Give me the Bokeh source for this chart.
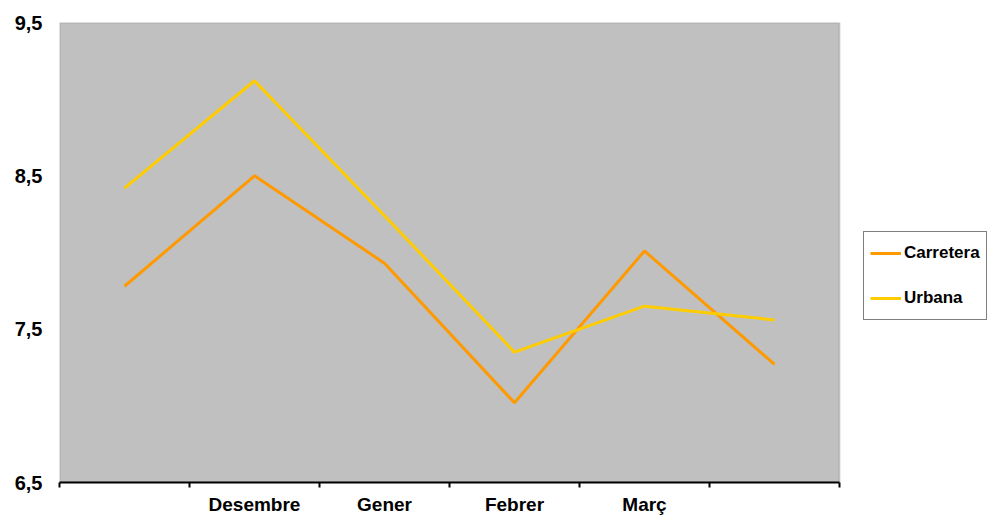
from bokeh.plotting import figure
from bokeh.models import FixedTicker, Legend, LegendItem, Range1d, ColumnDataSource, BoxAnnotation
from bokeh.embed import file_html
from bokeh.resources import INLINE

# ---- data ----
categories = ["", "Desembre", "Gener", "Febrer", "Març", ""]
carretera = [7.78, 8.50, 7.93, 7.02, 8.01, 7.27]
urbana = [8.42, 9.12, 8.24, 7.35, 7.65, 7.56]
y_ticks = [6.5, 7.5, 8.5, 9.5]
y_tick_labels = ["6,5", "7,5", "8,5", "9,5"]

n = len(categories)
xpos = [i + 0.5 for i in range(n)]
src = ColumnDataSource(dict(x=xpos, carretera=carretera, urbana=urbana))

FONT = "Liberation Sans"

# layout: plot area 780 px wide for n categories, extra 152 px on the right for the legend
LEFT, TOP, BOTTOM = 59, 22, 34
PLOT_W, EXTRA_W = 780, 152
x_end = n * (PLOT_W + EXTRA_W) / PLOT_W

p = figure(width=LEFT + PLOT_W + EXTRA_W, height=517, output_backend="svg", toolbar_location=None,
           x_range=Range1d(0, x_end), y_range=Range1d(y_ticks[0], y_ticks[-1]),
           min_border_left=LEFT, min_border_right=0, min_border_top=TOP, min_border_bottom=BOTTOM)
p.background_fill_color = "white"
p.border_fill_color = "white"
p.outline_line_color = None
p.xgrid.visible = False
p.ygrid.visible = False

# grey plot area
p.add_layout(BoxAnnotation(left=0, right=n, bottom=y_ticks[0], top=y_ticks[-1],
                           fill_color="#C0C0C0", fill_alpha=1.0,
                           line_color="#808080", line_width=2, level="underlay"))

r1 = p.line("x", "carretera", source=src, line_color="#FF9900", line_width=3)
r2 = p.line("x", "urbana", source=src, line_color="#FFCC00", line_width=3)

# x axis: labels at category centres, ticks at boundaries (minor ticks)
xa = p.xaxis[0]
xa.bounds = (0, n)
xa.ticker = FixedTicker(ticks=xpos, minor_ticks=list(range(n + 1)))
xa.major_label_overrides = {x: c for x, c in zip(xpos, categories)}
xa.major_tick_out = 0
xa.major_tick_in = 0
xa.minor_tick_out = 5
xa.minor_tick_in = 0
xa.minor_tick_line_color = "black"
xa.minor_tick_line_width = 2
xa.axis_line_color = "black"
xa.axis_line_width = 2
xa.major_label_standoff = 6
xa.major_label_text_font = FONT
xa.major_label_text_font_style = "bold"
xa.major_label_text_font_size = "19px"
xa.major_label_text_color = "black"

ya = p.yaxis[0]
ya.ticker = FixedTicker(ticks=y_ticks)
ya.major_label_overrides = {t: l for t, l in zip(y_ticks, y_tick_labels)}
ya.axis_line_color = None
ya.major_tick_line_color = None
ya.minor_tick_line_color = None
ya.major_tick_out = 0
ya.major_label_standoff = 17
ya.major_label_text_font = FONT
ya.major_label_text_font_style = "bold"
ya.major_label_text_font_size = "20px"
ya.major_label_text_color = "black"

legend = Legend(items=[LegendItem(label="Carretera", renderers=[r1]),
                       LegendItem(label="Urbana", renderers=[r2])],
                location=(804, 162), margin=0, padding=6, spacing=15,
                glyph_width=31, glyph_height=30, label_height=30, label_standoff=3,
                border_line_color="black", border_line_width=1.5,
                background_fill_color="white", background_fill_alpha=1.0,
                label_text_font=FONT, label_text_font_style="bold",
                label_text_font_size="17px", label_text_color="black")
p.add_layout(legend, "center")

open("out.html", "w").write(file_html(p, INLINE))
